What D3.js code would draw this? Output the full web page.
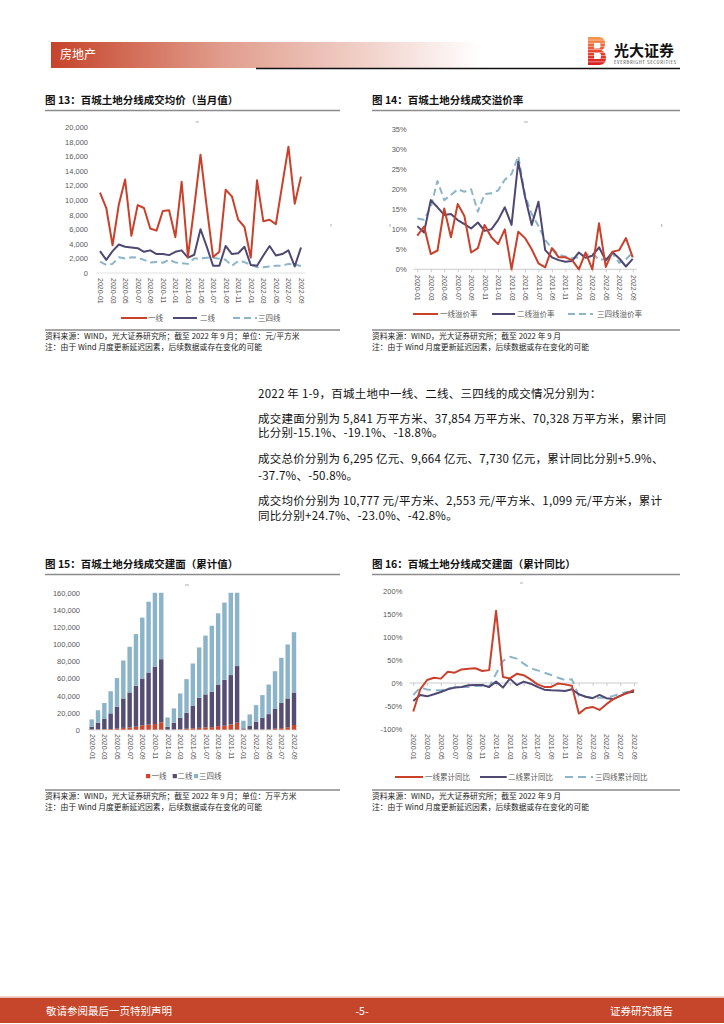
<!DOCTYPE html>
<html>
<head>
<meta charset="utf-8">
<script src="https://cdn.jsdelivr.net/npm/d3@7"></script>
<style>
  body { margin: 0; background: #fff; }
  svg text { font-family: "Noto Sans CJK SC", "Noto Sans", sans-serif; }
</style>
</head>
<body>
<svg id="page" width="724" height="1024"></svg>
<script>
// ---- data ----
const months = ["2020-01","2020-02","2020-03","2020-04","2020-05","2020-06","2020-07","2020-08","2020-09","2020-10","2020-11","2020-12",
  "2021-01","2021-02","2021-03","2021-04","2021-05","2021-06","2021-07","2021-08","2021-09","2021-10","2021-11","2021-12",
  "2022-01","2022-02","2022-03","2022-04","2022-05","2022-06","2022-07","2022-08","2022-09"];

// 图13 成交均价（元/平方米）
const price1 = [11000,8900,3800,9400,12800,5100,9300,8900,6100,5800,8500,8600,4900,12500,2200,9000,16200,9000,2200,2900,11400,10500,7300,6300,2100,12700,7100,7300,6700,12000,17300,9500,13200];
const price2 = [3000,1800,3000,3900,3600,3500,3400,2900,3100,2600,2600,2450,2900,3100,2100,2500,6000,3600,1000,1000,3700,2600,2700,3600,1100,1000,2400,3700,2400,2600,3100,900,3500];
const price3 = [1550,1100,1250,2150,2000,2150,2100,1800,1450,1500,1400,1800,1450,1350,1250,2000,2000,2100,2100,1950,1800,1000,1650,1500,1100,800,800,900,1000,1000,1250,1150,950];

// 图14 溢价率（%）
const premium1 = [8.4,10.7,3.8,4.7,15.2,8.0,16.3,13.3,4.2,5.3,11.1,8.0,6.3,10.0,0,9.4,7.8,5.0,1.5,0.5,5.3,3.0,3.0,2.3,0,4.2,0,11.5,0.6,4.4,4.8,7.8,3.0];
const premium2 = [10.8,9.2,17.3,15.5,13.6,13.8,12.3,11.3,10.2,11.7,9.6,10.0,12.3,15.5,11.1,26.9,18.2,11.1,16.9,4.8,3.0,2.3,1.9,2.1,4.2,2.9,3.4,5.5,2.2,4.3,2.7,0.7,2.6];
const premium3 = [12.7,12.4,15.5,22.1,17.3,18.6,20.0,19.4,20.0,14.4,18.8,19.0,19.7,22.4,23.8,28.3,18.5,13.8,10.8,7.3,5.3,3.6,3.2,2.8,3.0,3.6,4.0,2.4,2.5,4.0,1.6,2.5,4.2];

// 图15 成交建面累计值（万平方米）
const area1 = [300,500,700,1200,1600,2500,3000,3800,5500,6200,7000,9000,200,400,600,1500,2000,2500,3000,3300,4500,5000,6500,8500,200,300,400,500,700,1500,2200,3200,5841];
const area2 = [3500,8000,12100,18200,25400,34300,40800,47700,54500,60800,66800,73500,3700,8100,13600,18500,26000,35000,38500,41200,48500,53500,57500,66000,1700,4700,9300,13800,17800,23000,29300,33600,37854];
const area3 = [8600,14500,18700,25800,33500,44200,53200,60300,71000,82500,94200,102500,10700,16700,28400,39300,49500,58700,68500,77000,83000,90000,108000,117500,8900,13200,19300,26400,34500,44000,52700,62900,70328];

// 图16 成交建面累计同比（%）
const yoy1 = [-62,-14,6.5,11.5,9.5,24.5,22.5,29.5,31,32,26,28,157,13,10,20,17,8,-3,-8.5,-8.5,-1,-3,-6,-66.5,-55,-52,-58.5,-46,-35,-28,-22,-15.1];
const yoy2 = [-39,-26,-29,-24.5,-19.5,-13.5,-10,-8.5,-5,-4.5,-4.5,-8.5,3,-10,9.5,-4.5,3,-1.5,-8.5,-14.5,-16,-16.5,-17.5,-13.5,-24.5,-30,-33,-26,-33,-35,-28,-21,-19.1];
const yoy3 = [-26,-10,-14,-16,-16,-11.5,-10,-8.5,-8.5,-6.5,-6.5,-8.5,20,48,57,53,42,32,27.5,22.5,17.5,11.5,6.5,8,-28,-30,-32,-32,-32,-28,-23,-19.5,-18.8];

const tickMonths = months.filter((d, i) => i % 2 === 0);

const RED = '#C9412B', NAVY = '#4E4873', BLUE = '#8DB5CA';
const GREY = '#595959';

const svg = d3.select('#page');
const defs = svg.append('defs');

// ---- header ----
const hg = defs.append('linearGradient').attr('id', 'hdr');
hg.append('stop').attr('offset', '0%').attr('stop-color', '#C6432A');
hg.append('stop').attr('offset', '40%').attr('stop-color', '#E19D8D');
hg.append('stop').attr('offset', '75%').attr('stop-color', '#F2D4CD');
hg.append('stop').attr('offset', '100%').attr('stop-color', '#FFFFFF');
svg.append('rect').attr('x', 51).attr('y', 42).attr('width', 430).attr('height', 26).attr('fill', 'url(#hdr)');
svg.append('text').attr('x', 60).attr('y', 58.5).attr('fill', '#fff')
  .style('font-size', '12px').text('房地产');
svg.append('line').attr('x1', 256).attr('x2', 680).attr('y1', 68.5).attr('y2', 68.5)
  .attr('stroke', '#111').attr('stroke-width', 1.6);

// logo
const lg = defs.append('linearGradient').attr('id', 'logo').attr('x1', 0).attr('y1', 0).attr('x2', 0).attr('y2', 1);
lg.append('stop').attr('offset', '0%').attr('stop-color', '#F39A4A');
lg.append('stop').attr('offset', '55%').attr('stop-color', '#E8412E');
lg.append('stop').attr('offset', '100%').attr('stop-color', '#D81E1E');
svg.append('path')
  .attr('d', 'M588,37 H599 Q605,37 605,43.5 Q605,49 601.5,50.5 Q606,52 606,58 Q606,65 599,65 H588 Z')
  .attr('fill', 'url(#logo)');
for (let k = 1; k < 9; k++) {
  svg.append('line').attr('x1', 588).attr('x2', 607).attr('y1', 37 + k * 3.1).attr('y2', 37 + k * 3.1)
    .attr('stroke', '#fff').attr('stroke-width', 0.6).attr('opacity', 0.8);
}
svg.append('path').attr('d', 'M594,43 H599 Q600.5,43 600.5,46 Q600.5,48.5 599,48.5 H594 Z M594,53 H599.5 Q601,53 601,56 Q601,59 599.5,59 H594 Z')
  .attr('fill', '#fff');
svg.append('text').attr('x', 614).attr('y', 56).style('font-size', '15px').style('font-weight', 'bold')
  .attr('fill', '#111').text('光大证券');
svg.append('text').attr('x', 614).attr('y', 63.5).style('font-size', '4.2px').attr('fill', '#333')
  .attr('textLength', 62).text('EVERBRIGHT SECURITIES');

// ---- footer ----
svg.append('rect').attr('x', 0).attr('y', 996.5).attr('width', 724).attr('height', 1.2).attr('fill', '#E3A797');
svg.append('rect').attr('x', 0).attr('y', 998).attr('width', 724).attr('height', 25).attr('fill', '#C5462A');
svg.append('text').attr('x', 46).attr('y', 1015).attr('fill', '#fff').style('font-size', '10.5px').text('敬请参阅最后一页特别声明');
svg.append('text').attr('x', 362).attr('y', 1015).attr('fill', '#fff').attr('text-anchor', 'middle').style('font-size', '10.5px').text('-5-');
svg.append('text').attr('x', 673).attr('y', 1015).attr('fill', '#fff').attr('text-anchor', 'end').style('font-size', '10.5px').text('证券研究报告');

// ---- body paragraph ----
const para = [
  [397.5, '2022 年 1-9，百城土地中一线、二线、三四线的成交情况分别为：'],
  [422.5, '成交建面分别为 5,841 万平方米、37,854 万平方米、70,328 万平方米，累计同'],
  [437, '比分别-15.1%、-19.1%、-18.8%。'],
  [463, '成交总价分别为 6,295 亿元、9,664 亿元、7,730 亿元，累计同比分别+5.9%、'],
  [480, '-37.7%、-50.8%。'],
  [505, '成交均价分别为 10,777 元/平方米、2,553 元/平方米、1,099 元/平方米，累计'],
  [519.5, '同比分别+24.7%、-23.0%、-42.8%。']
];
svg.selectAll('.para').data(para).join('text')
  .attr('class', 'para')
  .attr('x', 258).attr('y', d => d[0])
  .attr('fill', '#111').style('font-size', '11.5px').style('letter-spacing', '0.25px')
  .text(d => d[1]);

// ---- chart frame: title, underline, sources ----
function frame(x, x2, titleY, srcY, title, src) {
  svg.append('text').attr('x', x).attr('y', titleY).style('font-size', '10.5px').style('font-weight', 'bold')
    .attr('fill', '#111').text(title);
  svg.append('line').attr('x1', x).attr('x2', x2).attr('y1', titleY + 6.5).attr('y2', titleY + 6.5)
    .attr('stroke', '#8c8c8c').attr('stroke-width', 1.4);
  svg.append('line').attr('x1', x).attr('x2', x2).attr('y1', srcY - 6).attr('y2', srcY - 6)
    .attr('stroke', '#222').attr('stroke-width', 0.8);
  svg.append('text').attr('x', x).attr('y', srcY + 2.5).style('font-size', '7.8px').attr('fill', '#222').text(src);
  svg.append('text').attr('x', x).attr('y', srcY + 13.5).style('font-size', '7.8px').attr('fill', '#222')
    .text('注：由于 Wind 月度更新延迟因素，后续数据或存在变化的可能');
}

function yAxisLabels(g, y, ticks, fmt, right) {
  g.append('g').attr('transform', `translate(${right},0)`)
    .call(d3.axisLeft(y).tickValues(ticks).tickSize(0).tickPadding(0).tickFormat(fmt))
    .call(a => a.select('.domain').remove())
    .call(a => a.selectAll('text').attr('fill', GREY).style('font-size', '7.5px')
      .style('font-family', '"Liberation Sans", Arial, sans-serif'));
}

function xAxisLabels(g, x, top) {
  g.append('g').attr('transform', `translate(0,${top})`)
    .call(d3.axisBottom(x).tickValues(tickMonths).tickSize(0).tickPadding(0))
    .call(a => a.select('.domain').remove())
    .call(a => a.selectAll('text')
      .attr('transform', 'rotate(90)').attr('x', 0).attr('y', 0).attr('dy', '0.35em')
      .attr('text-anchor', 'start').attr('fill', GREY).style('font-size', '7px')
      .style('font-family', '"Liberation Sans", Arial, sans-serif'));
}

function baseline(g, x, yPos, color, tick) {
  const [a, b] = x.range();
  g.append('line').attr('x1', a - 4).attr('x2', b + 4).attr('y1', yPos).attr('y2', yPos)
    .attr('stroke', color).attr('stroke-width', 0.8);
  if (tick) {
    g.append('g').attr('transform', `translate(0,${yPos})`)
      .call(d3.axisBottom(x).tickValues(tickMonths).tickSize(3).tickFormat(''))
      .call(t => t.select('.domain').remove())
      .call(t => t.selectAll('line').attr('stroke', color).attr('stroke-width', 0.8));
  }
}

function lineLegend(items, y) {
  items.forEach(it => {
    svg.append('line').attr('x1', it.x1).attr('x2', it.x2).attr('y1', y).attr('y2', y)
      .attr('stroke', it.color).attr('stroke-width', 2).attr('stroke-dasharray', it.dash || null);
    svg.append('text').attr('x', it.tx).attr('y', y + 2.7).style('font-size', '7.5px').attr('fill', GREY).text(it.label);
  });
}

function drawLines(g, x, y, series) {
  const line = d3.line().x((d, i) => x(months[i])).y(d => y(d));
  series.forEach(s => {
    g.append('path').datum(s.values).attr('d', line).attr('fill', 'none')
      .attr('stroke', s.color).attr('stroke-width', 2).attr('stroke-linejoin', 'round')
      .attr('stroke-dasharray', s.dash || null);
  });
}

function mark(x1, y1, x2, y2) {
  svg.append('line').attr('x1', x1).attr('y1', y1).attr('x2', x2).attr('y2', y2)
    .attr('stroke', '#999').attr('stroke-width', 0.8);
}

// ---- 图13 ----
frame(45, 340, 104, 336, '图 13：百城土地分线成交均价（当月值）', '资料来源：WIND，光大证券研究所；截至 2022 年 9 月；单位：元/平方米');
{
  const g = svg.append('g');
  const x = d3.scalePoint().domain(months).range([100, 301]);
  const y = d3.scaleLinear().domain([0, 20000]).range([273, 127]);
  yAxisLabels(g, y, d3.range(0, 20001, 2000), d3.format(','), 88);
  baseline(g, x, 273, '#d9d9d9', false);
  xAxisLabels(g, x, 278);
  drawLines(g, x, y, [
    { values: price3, color: BLUE, dash: '7,4' },
    { values: price2, color: NAVY },
    { values: price1, color: RED }
  ]);
  lineLegend([
    { x1: 121, x2: 147, tx: 148, color: RED, label: '一线' },
    { x1: 173, x2: 197, tx: 200, color: NAVY, label: '二线' },
    { x1: 233, x2: 257, tx: 258, color: BLUE, dash: '7,4', label: '三四线' }
  ], 318);
  mark(195.5, 122, 199, 122);
  mark(331, 224, 331, 226.5);
}

// ---- 图14 ----
frame(372, 680, 104, 336, '图 14：百城土地分线成交溢价率', '资料来源：WIND，光大证券研究所；截至 2022 年 9 月');
{
  const g = svg.append('g');
  const x = d3.scalePoint().domain(months).range([417.3, 632.7]);
  const y = d3.scaleLinear().domain([0, 35]).range([269.3, 129.3]);
  yAxisLabels(g, y, d3.range(0, 36, 5), d => d + '%', 406.7);
  baseline(g, x, 269.3, '#bfbfbf', true);
  xAxisLabels(g, x, 275);
  drawLines(g, x, y, [
    { values: premium3, color: BLUE, dash: '7,4' },
    { values: premium2, color: NAVY },
    { values: premium1, color: RED }
  ]);
  lineLegend([
    { x1: 413, x2: 438, tx: 440, color: RED, label: '一线溢价率' },
    { x1: 492, x2: 515, tx: 517, color: NAVY, label: '二线溢价率' },
    { x1: 568, x2: 593, tx: 597, color: BLUE, dash: '7,4', label: '三四线溢价率' }
  ], 314);
  mark(524, 122, 528, 122);
  mark(390, 224, 390, 227);
  mark(661.7, 224, 661.7, 227);
}

// ---- 图15 ----
frame(45, 340, 568, 796, '图 15：百城土地分线成交建面（累计值）', '资料来源：WIND，光大证券研究所；截至 2022 年 9 月；单位：万平方米');
{
  const g = svg.append('g');
  const x = d3.scaleBand().domain(months).range([91.7 - 3.16, 294 + 3.16]).paddingInner(0.3).paddingOuter(0.15);
  const y = d3.scaleLinear().domain([0, 160000]).range([730, 592.7]);
  yAxisLabels(g, y, d3.range(0, 160001, 20000), d3.format(','), 80);

  defs.append('clipPath').attr('id', 'clip15').append('rect')
    .attr('x', 80).attr('y', y(160000)).attr('width', 230).attr('height', y(0) - y(160000));

  const rows = months.map((m, i) => ({ m, a1: area1[i], a2: area2[i], a3: area3[i] }));
  const stacked = d3.stack().keys(['a1', 'a2', 'a3'])(rows);
  const colors = { a1: '#D0452A', a2: '#554D72', a3: '#8CB4C8' };
  g.append('g').attr('clip-path', 'url(#clip15)')
    .selectAll('g').data(stacked).join('g').attr('fill', d => colors[d.key])
    .selectAll('rect').data(d => d).join('rect')
    .attr('x', d => x(d.data.m)).attr('width', x.bandwidth())
    .attr('y', d => y(d[1])).attr('height', d => y(d[0]) - y(d[1]));

  const xp = d3.scalePoint().domain(months).range([91.7, 294]);
  baseline(g, xp, 730, '#d9d9d9', false);
  xAxisLabels(g, xp, 734);

  const leg = [
    { x: 146, tx: 151.5, color: '#D0452A', label: '一线' },
    { x: 172.7, tx: 177.5, color: '#554D72', label: '二线' },
    { x: 194, tx: 199, color: '#8CB4C8', label: '三四线' }
  ];
  leg.forEach(it => {
    svg.append('rect').attr('x', it.x).attr('y', 774).attr('width', 4.2).attr('height', 4.2).attr('fill', it.color);
    svg.append('text').attr('x', it.tx).attr('y', 778.8).style('font-size', '7.5px').attr('fill', GREY).text(it.label);
  });
  mark(185, 585, 189, 585);
}

// ---- 图16 ----
frame(372, 680, 568, 796, '图 16：百城土地分线成交建面（累计同比）', '资料来源：WIND，光大证券研究所；截至 2022 年 9 月');
{
  const g = svg.append('g');
  const x = d3.scalePoint().domain(months).range([413.3, 634]);
  const y = d3.scaleLinear().domain([-100, 200]).range([729, 591]);
  yAxisLabels(g, y, d3.range(-100, 201, 50), d => d + '%', 402.3);
  baseline(g, x, y(0), '#bfbfbf', true);
  xAxisLabels(g, x, 734);
  drawLines(g, x, y, [
    { values: yoy3, color: BLUE, dash: '8,5' },
    { values: yoy2, color: NAVY },
    { values: yoy1, color: RED }
  ]);
  lineLegend([
    { x1: 395, x2: 423, tx: 425, color: RED, label: '一线累计同比' },
    { x1: 480, x2: 506.7, tx: 508, color: NAVY, label: '二线累计同比' },
    { x1: 565, x2: 593, tx: 595, color: BLUE, dash: '8,5', label: '三四线累计同比' }
  ], 777);
  mark(520, 583, 523, 583);
}
</script>
</body>
</html>
